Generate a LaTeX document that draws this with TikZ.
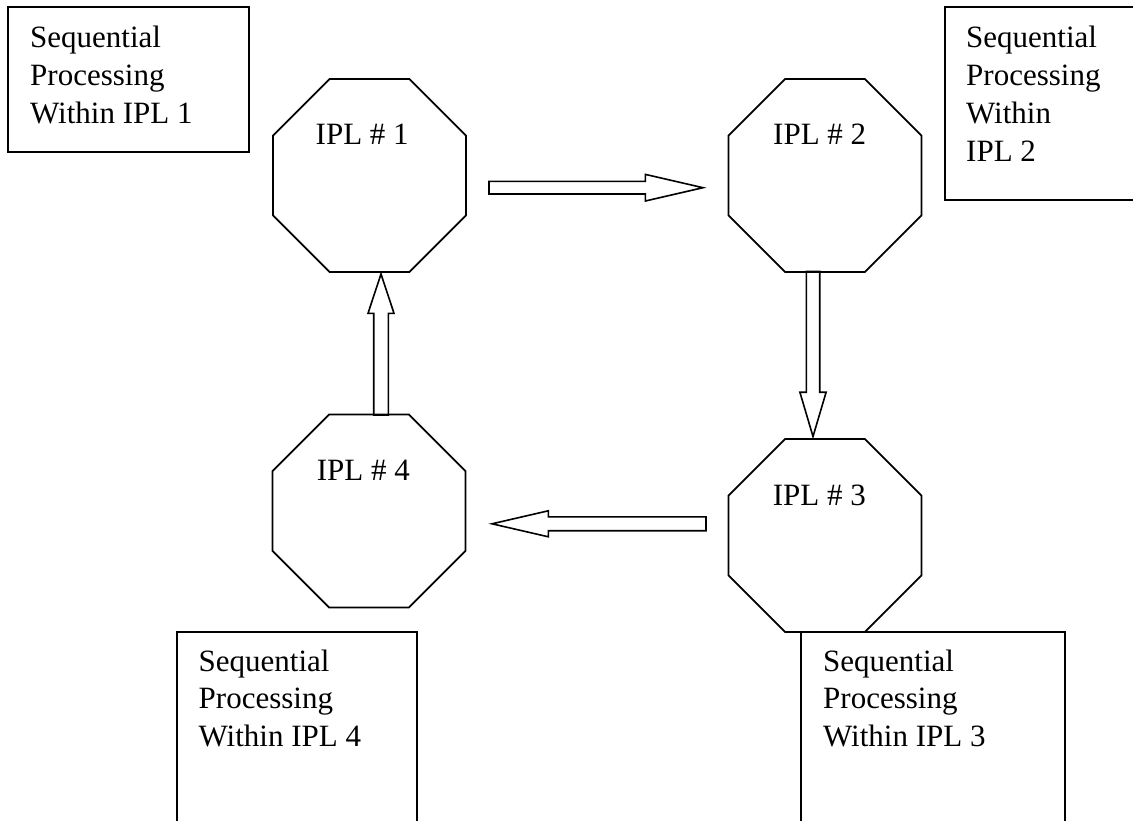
\documentclass[tikz,border=0pt]{standalone}
\usepackage{fontspec}
\setmainfont{Liberation Serif}
\usetikzlibrary{shapes.geometric,shapes.arrows,calc}
\tikzset{
  box/.style={draw, line width=2pt, rectangle, anchor=north west, inner sep=0pt, outer sep=0pt},
  oct/.style={draw, line width=1.8pt, regular polygon, regular polygon sides=8, minimum size=208.9pt, inner sep=0pt, outer sep=0pt},
  txt/.style={anchor=base west, align=left, inner sep=0pt, font=\fontsize{31}{37.7}\selectfont},
  blk/.style={draw, line width=1.6pt, single arrow, inner xsep=0pt, outer sep=0pt, single arrow head indent=0pt, anchor=tail}
}
\begin{document}
\begin{tikzpicture}[x=1pt,y=-1pt]
\useasboundingbox (0,0) rectangle (1133,821);
\clip (0,0) rectangle (1133,821);
% boxes
\node[box, minimum width=241pt, minimum height=145pt] (b1) at (8,7) {};
\node[box, minimum width=260pt, minimum height=193pt] (b2) at (945,7) {};
\node[box, minimum width=240pt, minimum height=260pt] (b4) at (177,632) {};
\node[box, minimum width=264pt, minimum height=260pt] (b3) at (801,632) {};
% text nodes: base anchor is the last line's baseline
\node[txt] (t1) at (30,123.4) {Sequential\\Processing\\Within IPL 1};
\node[txt] (t2) at (966,161.1) {Sequential\\Processing\\Within\\IPL 2};
\node[txt] (t4) at (198.5,746.4) {Sequential\\Processing\\Within IPL 4};
\node[txt] (t3) at (823,746.4) {Sequential\\Processing\\Within IPL 3};
% octagons
\node[oct] (o1) at (369.5,175.5) {};
\node[oct] (o2) at (825,175.5) {};
\node[oct] (o3) at (825,535.5) {};
\node[oct] (o4) at (369,511) {};
\node[txt] (l1) at ($(o1.center)+(-54,-30.5)$) {IPL \# 1};
\node[txt] (l2) at ($(o2.center)+(-52,-30.5)$) {IPL \# 2};
\node[txt] (l3) at ($(o3.center)+(-52.3,-30.5)$) {IPL \# 3};
\node[txt] (l4) at ($(o4.center)+(-52.3,-31)$) {IPL \# 4};
% block arrows
\node[blk, inner ysep=5.5pt, single arrow head extend=7pt, minimum height=214pt, single arrow tip angle=26] (a12) at (489,187.7) {};
\node[blk, inner ysep=5.9pt, single arrow head extend=6.4pt, minimum height=165pt, single arrow tip angle=33, rotate=-90] (a23) at (813,271.5) {};
\node[blk, inner ysep=6.1pt, single arrow head extend=6.1pt, minimum height=214pt, single arrow tip angle=26, rotate=180] (a34) at (706,523.8) {};
\node[blk, inner ysep=6.5pt, single arrow head extend=5.7pt, minimum height=141pt, single arrow tip angle=36.6, rotate=90] (a41) at (381,415) {};
\end{tikzpicture}
\end{document}
